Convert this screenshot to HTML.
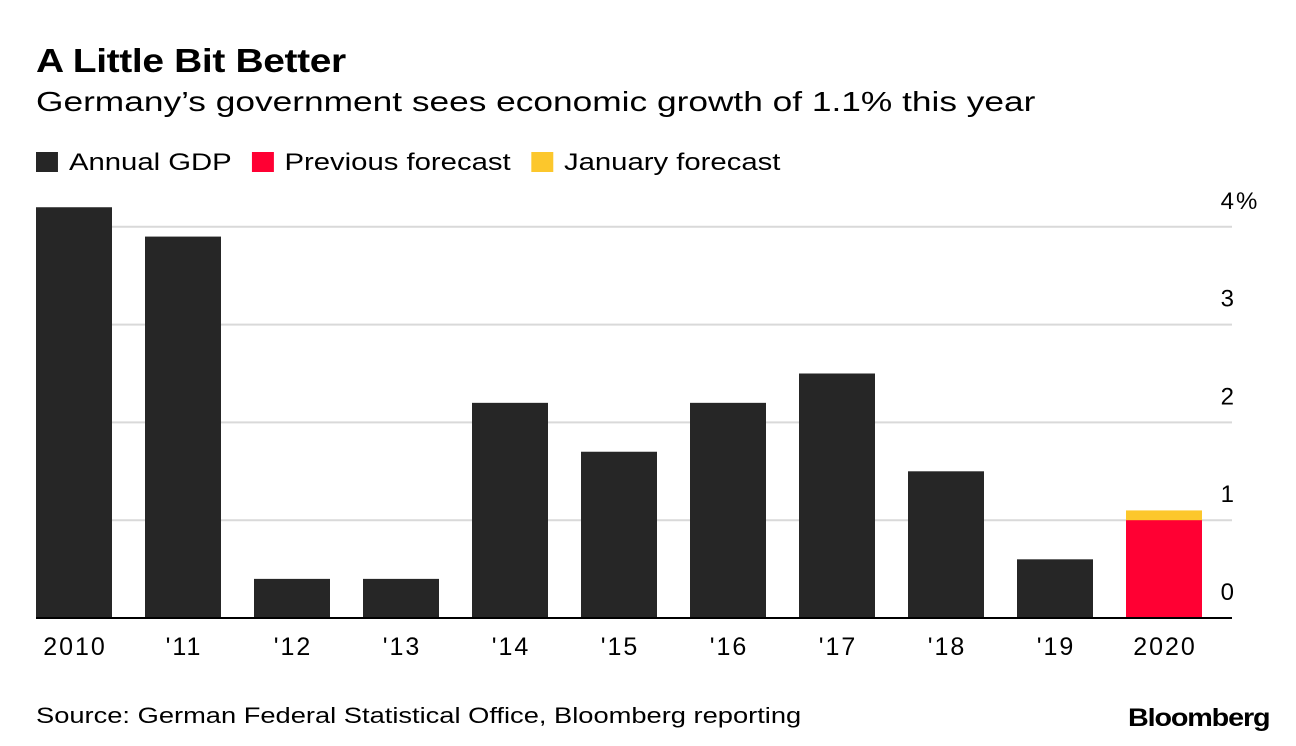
<!DOCTYPE html>
<html><head><meta charset="utf-8"><style>
body{margin:0;background:#fff;width:1296px;height:746px;overflow:hidden;font-family:"Liberation Sans",Arial,sans-serif;color:#000}
.t{position:absolute;white-space:nowrap;transform-origin:0 50%}
</style></head><body>
<div class="t" style="left:36px;top:42px;font-size:33px;font-weight:bold;letter-spacing:-0.3px;transform:scaleX(1.18)">A Little Bit Better</div>
<div class="t" style="left:36px;top:86px;font-size:28px;transform:scaleX(1.26)">Germany’s government sees economic growth of 1.1% this year</div>
<div class="t" style="left:36px;top:149px;font-size:24px;transform:scaleX(1.22)">
<span><span style="display:inline-block;width:18px;height:20px;background:#262626;vertical-align:-2px;margin-right:9px"></span>Annual GDP</span>
<span style="margin-left:10px"><span style="display:inline-block;width:18px;height:20px;background:#ff0033;vertical-align:-2px;margin-right:9px"></span>Previous forecast</span>
<span style="margin-left:10px"><span style="display:inline-block;width:18px;height:20px;background:#fcc72c;vertical-align:-2px;margin-right:9px"></span>January forecast</span>
</div>
<svg id="chart" width="1296" height="746" style="position:absolute;left:0;top:0"></svg>
<div class="t" style="left:36px;top:703px;font-size:22px;transform:scaleX(1.24)">Source: German Federal Statistical Office, Bloomberg reporting</div>
<div class="t" style="left:1128px;top:704px;font-size:25px;font-weight:bold;letter-spacing:-1px;transform:scaleX(1.15)">Bloomberg</div>
<script>
const categories=["2010","'11","'12","'13","'14","'15","'16","'17","'18","'19","2020"];
const gdp=[4.2,3.9,0.4,0.4,2.2,1.7,2.2,2.5,1.5,0.6,0];
const previousForecast=[0,0,0,0,0,0,0,0,0,0,1.0];
const januaryForecast=[0,0,0,0,0,0,0,0,0,0,1.1];
const yTicks=[0,1,2,3,4];
const yTickLabels=["0","1","2","3","4"];
const NS="http://www.w3.org/2000/svg";
const svg=document.getElementById('chart');
const y0=618,unit=97.8,x0=36,step=109,bw=76,right=1232;
const y=v=>y0-v*unit;
const x=i=>x0+i*step;
function mk(tag,attrs){const e=document.createElementNS(NS,tag);for(const k in attrs)e.setAttribute(k,attrs[k]);svg.appendChild(e);return e;}
yTicks.forEach((t,i)=>{
  if(t>0){const l=mk('line',{x1:x0,x2:right,y1:y(t),y2:y(t),stroke:'#d9d9d9','stroke-width':2});
  
  }
  const tx=mk('text',{x:1234,y:y(t)-18,'text-anchor':'end','font-size':24,'font-family':'Liberation Sans, sans-serif',fill:'#000'});
  tx.textContent=yTickLabels[i];
  
  
  if(i===yTicks.length-1){
    const p=mk('text',{x:1236,y:y(t)-18,'font-size':24,'font-family':'Liberation Sans, sans-serif',fill:'#000'});
    p.textContent='%';
    
    
  }
});
categories.forEach((c,i)=>{
  if(januaryForecast[i]>0){const r=mk('rect',{x:x(i),y:y(januaryForecast[i]),width:bw,height:y0-y(januaryForecast[i]),fill:'#fcc72c'});
  
  }
  if(previousForecast[i]>0){const r=mk('rect',{x:x(i),y:y(previousForecast[i]),width:bw,height:y0-y(previousForecast[i]),fill:'#ff0033'});
  
  }
  if(gdp[i]>0){const r=mk('rect',{x:x(i),y:y(gdp[i]),width:bw,height:y0-y(gdp[i]),fill:'#262626'});
  
  }
  const tx=mk('text',{x:x(i)+bw/2+1,y:655,'text-anchor':'middle','font-size':25,'letter-spacing':2,'font-family':'Liberation Sans, sans-serif',fill:'#000'});
  tx.textContent=c;
  
  
});
const base=mk('line',{x1:x0,x2:right,y1:y0,y2:y0,stroke:'#000','stroke-width':2});


</script>
</body></html>
